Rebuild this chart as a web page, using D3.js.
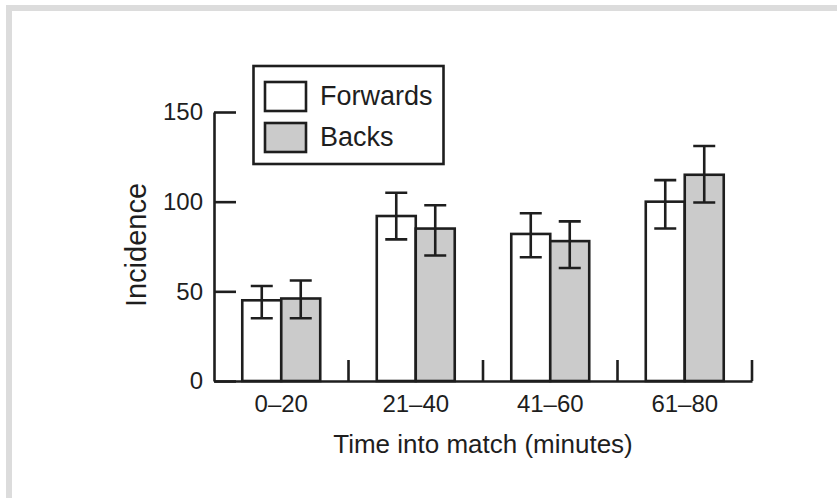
<!DOCTYPE html>
<html>
<head>
<meta charset="utf-8">
<script src="https://cdn.jsdelivr.net/npm/d3@7"></script>
<style>
  html, body { margin: 0; padding: 0; background: #fff; }
  svg { display: block; }
  text { font-family: "Liberation Sans", Arial, sans-serif; fill: #1e1e1e; }
</style>
</head>
<body>
<svg id="chart" width="837" height="498"></svg>
<script>
// Injury incidence by period of the match
const categories = ["0–20", "21–40", "41–60", "61–80"];
const seriesNames = ["Forwards", "Backs"];
const forwards = [45, 92, 82, 100];
const backs = [46, 85, 78, 115];
const forwardsLow = [35, 79, 69, 85];
const forwardsHigh = [53, 105, 93.5, 112];
const backsLow = [35, 70, 63, 99.5];
const backsHigh = [56, 98, 89, 131];
const yTicks = [0, 50, 100, 150];

const ink = "#1e1e1e";
const fills = { Forwards: "#ffffff", Backs: "#cbcbcb" };

const svg = d3.select("#chart");

// light grey frame along top and left
svg.append("path")
  .attr("d", "M9,498V8H837")
  .attr("fill", "none")
  .attr("stroke", "#dcdcdc")
  .attr("stroke-width", 6);

const x = d3.scaleBand().domain(categories).range([214, 752]).paddingInner(0).paddingOuter(0);
const xs = d3.scaleBand().domain(seriesNames).range([0, x.bandwidth()]).paddingInner(0).paddingOuter(0.725);
const y = d3.scaleLinear().domain([0, 150]).range([381, 112]);

const rows = categories.map((c, i) => [
  { cat: c, s: "Forwards", v: forwards[i], lo: forwardsLow[i], hi: forwardsHigh[i] },
  { cat: c, s: "Backs", v: backs[i], lo: backsLow[i], hi: backsHigh[i] }
]).flat();

// bars
svg.append("g").selectAll("rect").data(rows).join("rect")
  .attr("x", d => x(d.cat) + xs(d.s))
  .attr("y", d => y(d.v))
  .attr("width", xs.bandwidth())
  .attr("height", d => y(0) - y(d.v))
  .attr("fill", d => fills[d.s])
  .attr("stroke", ink)
  .attr("stroke-width", 2.6);

// error bars
const capW = 22;
const eb = svg.append("g").attr("stroke", ink).attr("stroke-width", 2.6).attr("fill", "none");
eb.selectAll("path").data(rows).join("path")
  .attr("d", d => {
    const cx = x(d.cat) + xs(d.s) + xs.bandwidth() / 2;
    const yl = y(d.lo), yh = y(d.hi);
    return `M${cx - capW / 2},${yh}H${cx + capW / 2}M${cx},${yh}V${yl}M${cx - capW / 2},${yl}H${cx + capW / 2}`;
  });

// y axis with inward ticks
const yAxis = svg.append("g")
  .attr("transform", `translate(${x.range()[0]},0)`)
  .call(d3.axisLeft(y).tickValues(yTicks).tickSizeInner(-22).tickSizeOuter(0).tickPadding(11));
yAxis.select(".domain").attr("stroke", ink).attr("stroke-width", 2.6);
yAxis.selectAll(".tick line").attr("stroke", ink).attr("stroke-width", 2.6);
yAxis.selectAll(".tick text")
  .attr("x", -11)
  .style("font-family", "'Liberation Sans', Arial, sans-serif")
  .style("font-size", "24px")
  .attr("fill", ink);

// x axis: baseline, group separators, centred labels
const xAxis = svg.append("g")
  .attr("transform", `translate(0,${y(0)})`)
  .call(d3.axisBottom(x).tickSize(0).tickPadding(14));
xAxis.select(".domain").attr("stroke", ink).attr("stroke-width", 2.6);
xAxis.selectAll(".tick text")
  .style("font-family", "'Liberation Sans', Arial, sans-serif")
  .style("font-size", "24px")
  .attr("fill", ink);
svg.append("g").selectAll("line").data(categories).join("line")
  .attr("x1", d => x(d) + x.bandwidth())
  .attr("x2", d => x(d) + x.bandwidth())
  .attr("y1", y(0))
  .attr("y2", y(0) - 21)
  .attr("stroke", ink)
  .attr("stroke-width", 2.6);

// axis titles
svg.append("text")
  .attr("x", (x.range()[0] + x.range()[1]) / 2)
  .attr("y", 453)
  .attr("text-anchor", "middle")
  .style("font-size", "26px")
  .text("Time into match (minutes)");

svg.append("text")
  .attr("transform", `translate(146,245) rotate(-90)`)
  .attr("text-anchor", "middle")
  .style("font-size", "29px")
  .text("Incidence");

// legend
const lg = svg.append("g");
lg.append("rect")
  .attr("x", 253.5).attr("y", 66)
  .attr("width", 190).attr("height", 98)
  .attr("fill", "#fff")
  .attr("stroke", ink).attr("stroke-width", 2.6);
const li = lg.selectAll("g.item").data(seriesNames).join("g")
  .attr("class", "item")
  .attr("transform", (d, i) => `translate(265,${82 + i * 41})`);
li.append("rect")
  .attr("width", 41).attr("height", 29)
  .attr("fill", d => fills[d])
  .attr("stroke", ink).attr("stroke-width", 2.6);
li.append("text")
  .attr("x", 55).attr("y", 23)
  .style("font-size", "27px")
  .text(d => d);
</script>
</body>
</html>
